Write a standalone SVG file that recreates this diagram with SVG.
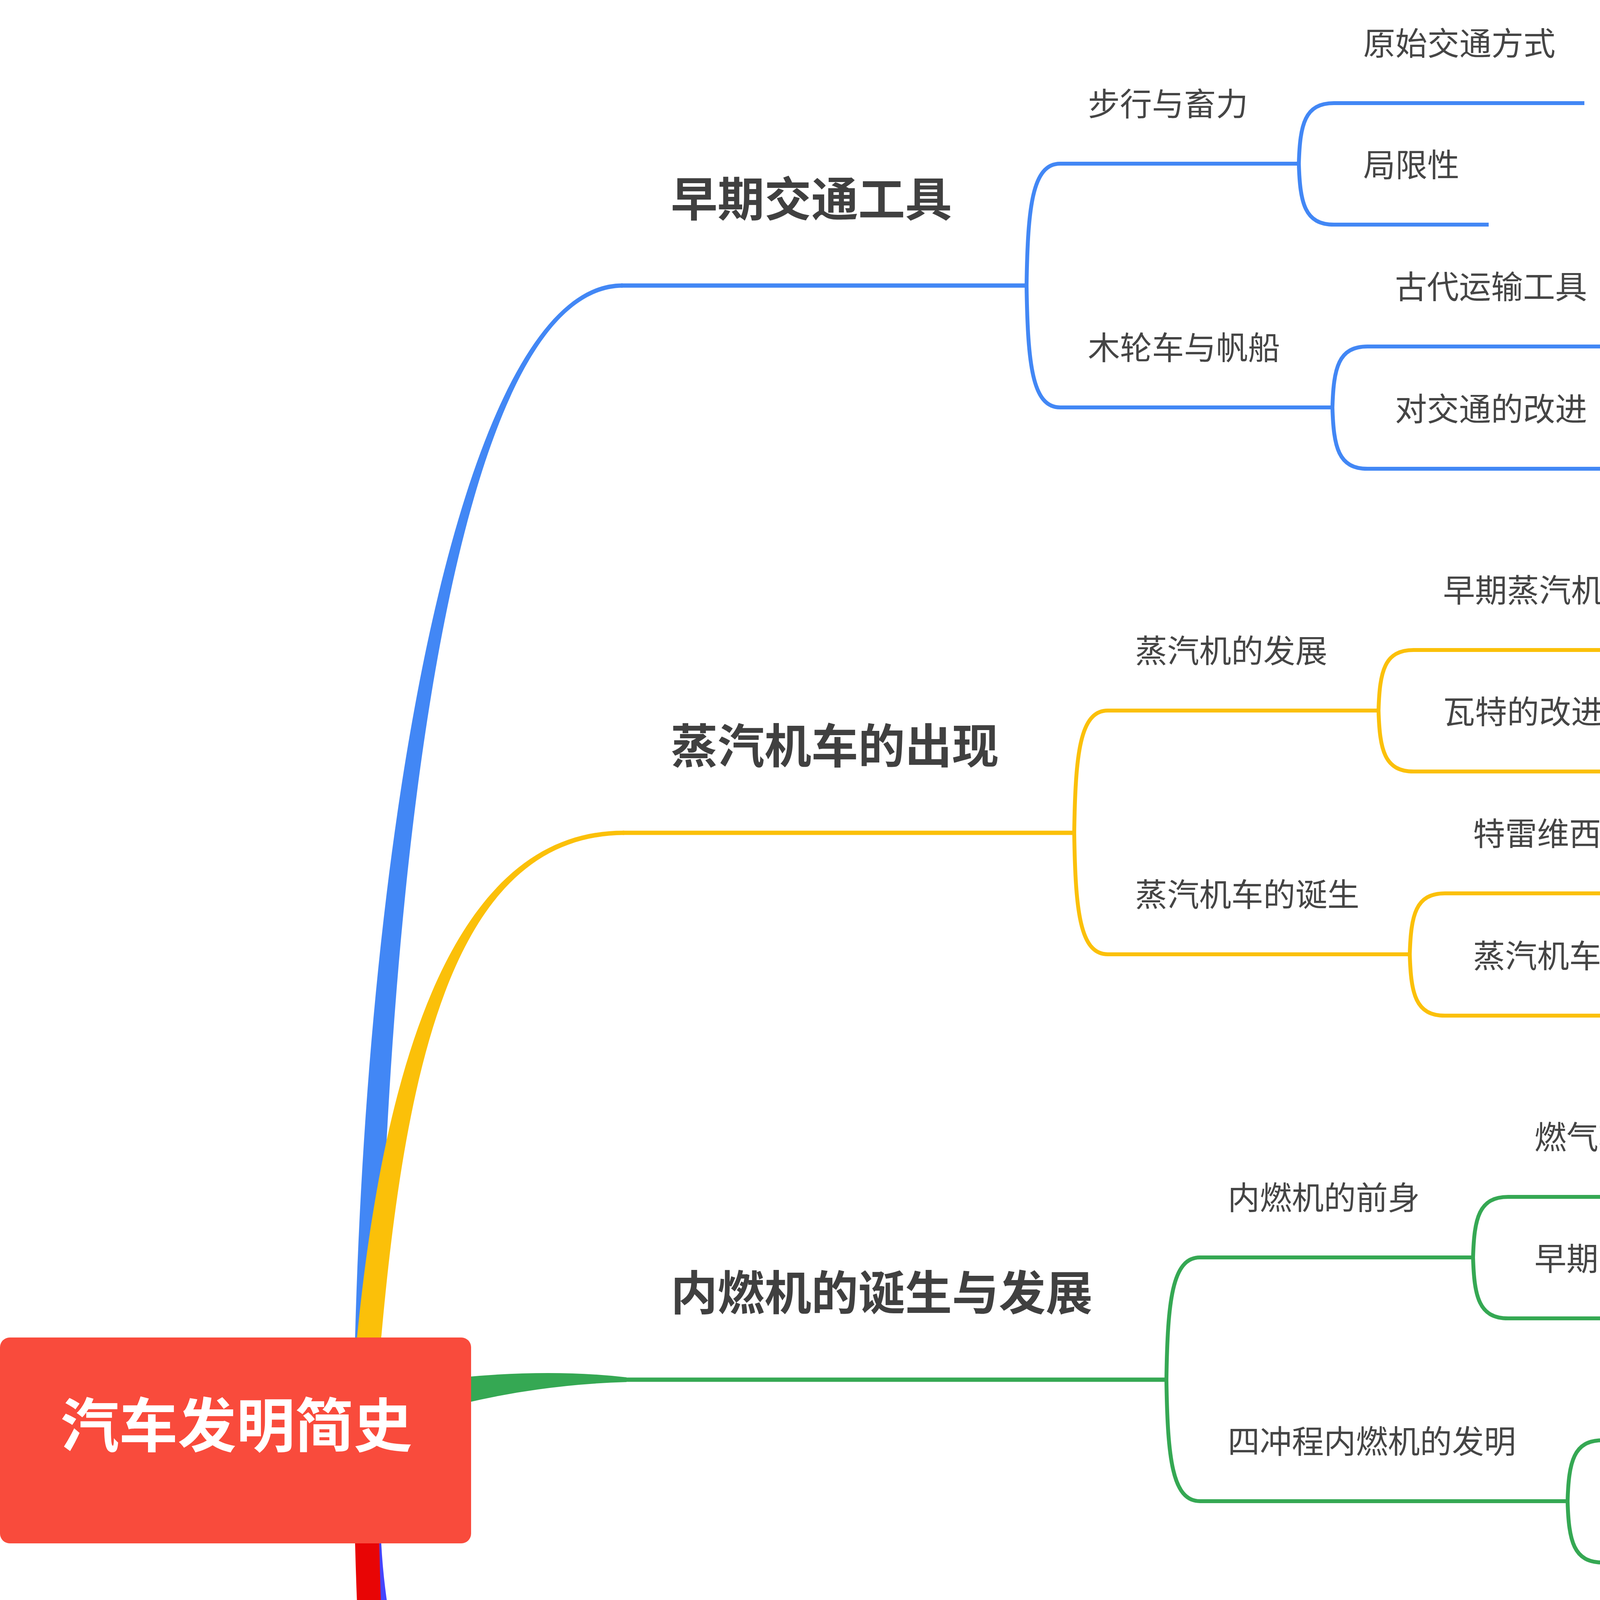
<svg xmlns="http://www.w3.org/2000/svg" width="4969" height="7431" viewBox="0 0 4969 7431">
<style>
.c{fill:none;stroke-width:10;stroke-linecap:butt}
.mc{fill:none;stroke-width:11}
.b{stroke:#4287F5}.bf{fill:#4287F5}
.y{stroke:#FBC009}.yf{fill:#FBC009}
.g{stroke:#35A853}.gf{fill:#35A853}
.p{stroke:#4545FF}.pf{fill:#4545FF}
.r{stroke:#E80505}.rf{fill:#E80505}
text{font-family:"Noto Sans CJK SC","Noto Sans",sans-serif}
.t{font-size:82px;fill:#454545}
.m{font-size:120px;font-weight:bold;fill:#404040}
.root{font-size:150px;font-weight:bold;fill:#FFFFFF}
</style>
<rect width="4969" height="7431" fill="#FFFFFF"/>
<g id="connectors">
  <!-- blue branch -->
  <path class="bf" d="M 909 3470 L 909 3424 C 947 2000 1200 723 1594 725.5 L 1594 736.5 C 1200 739 1003 2000 971 3424 L 971 3470 Z"/>
  <path class="mc b" d="M 1590 731 H 2628"/>
  <path class="c b" d="M 2628 731 C 2631 528 2643 419 2714 419 H 3325"/>
  <path class="c b" d="M 2628 731 C 2631 934 2643 1043 2714 1043 H 3411"/>
  <path class="c b" d="M 3325 419 C 3328 318 3340 264 3415 264 H 4056"/>
  <path class="c b" d="M 3325 419 C 3328 520 3340 575 3415 575 H 3811"/>
  <path class="c b" d="M 3411 1043 C 3414 942 3426 887 3501 887 H 4135"/>
  <path class="c b" d="M 3411 1043 C 3414 1145 3426 1200 3501 1200 H 4135"/>
  <!-- yellow branch -->
  <path class="yf" d="M 914 3470 L 914 3424 C 985 2700 1170 2124 1598 2126.5 L 1598 2137.5 C 1170 2140 1041 2700 976 3424 L 976 3470 Z"/>
  <path class="mc y" d="M 1594 2132 H 2750"/>
  <path class="c y" d="M 2750 2132 C 2753 1928 2765 1819 2836 1819 H 3529"/>
  <path class="c y" d="M 2750 2132 C 2753 2334 2765 2443 2836 2443 H 3609"/>
  <path class="c y" d="M 3529 1819 C 3532 1718 3544 1664 3619 1664 H 4174"/>
  <path class="c y" d="M 3529 1819 C 3532 1920 3544 1975 3619 1975 H 4174"/>
  <path class="c y" d="M 3609 2443 C 3612 2342 3624 2287 3699 2287 H 4499"/>
  <path class="c y" d="M 3609 2443 C 3612 2545 3624 2600 3699 2600 H 4662"/>
  <!-- green branch -->
  <path class="gf" d="M 1100 3535 Q 1380 3500 1604 3526 L 1604 3538 Q 1350 3545 1100 3615 Z"/>
  <path class="mc g" d="M 1600 3532 H 2986"/>
  <path class="c g" d="M 2986 3532 C 2989 3329 3001 3219 3072 3219 H 3771"/>
  <path class="c g" d="M 2986 3532 C 2989 3734 3001 3843 3072 3843 H 4013"/>
  <path class="c g" d="M 3771 3219 C 3774 3118 3786 3064 3861 3064 H 4330"/>
  <path class="c g" d="M 3771 3219 C 3774 3320 3786 3375 3861 3375 H 4575"/>
  <path class="c g" d="M 4013 3843 C 4016 3742 4028 3687 4103 3687 H 4896"/>
  <path class="c g" d="M 4013 3843 C 4016 3945 4028 4000 4103 4000 H 4735"/>
  <!-- purple branch -->
  <path class="pf" d="M 914 3900 L 914 3951 C 947 4450 1250 4940 1592 4937.5 L 1592 4926.5 C 1250 4924 1003 4450 976 3951 L 976 3900 Z"/>
  <path class="mc p" d="M 1588 4932 H 2867"/>
  <path class="c p" d="M 2867 4932 C 2870 4729 2882 4619 2953 4619 H 3733"/>
  <path class="c p" d="M 2867 4932 C 2870 5134 2882 5243 2953 5243 H 3816"/>
  <path class="c p" d="M 3733 4619 C 3736 4518 3748 4464 3823 4464 H 4798"/>
  <path class="c p" d="M 3733 4619 C 3736 4720 3748 4775 3823 4775 H 4962"/>
  <path class="c p" d="M 3816 5243 C 3819 5142 3831 5087 3906 5087 H 4662"/>
  <path class="c p" d="M 3816 5243 C 3819 5345 3831 5400 3906 5400 H 4783"/>
  <!-- red branch -->
  <path class="rf" d="M 909 3900 L 909 3951 C 947 5375 1200 6652 1594 6649.5 L 1594 6638.5 C 1200 6636 1003 5375 971 3951 L 971 3900 Z"/>
  <path class="mc r" d="M 1590 6643 H 2986"/>
  <path class="c r" d="M 2986 6643 C 2989 6237 3001 6018 3072 6018 H 3854"/>
  <path class="c r" d="M 2986 6643 H 3933"/>
  <path class="c r" d="M 2986 6643 C 2989 7049 3001 7267 3072 7267 H 3933"/>
  <path class="c r" d="M 3854 6018 C 3857 5919 3869 5865 3940 5865 H 4575"/>
  <path class="c r" d="M 3854 6018 C 3857 6121 3869 6176 3940 6176 H 4575"/>
  <path class="c r" d="M 3933 6643 C 3936 6542 3948 6487 4021 6487 H 4818"/>
  <path class="c r" d="M 3933 6643 C 3936 6744 3948 6799 4021 6799 H 4655"/>
  <path class="c r" d="M 3933 7267 C 3936 7166 3948 7112 4021 7112 H 4655"/>
  <path class="c r" d="M 3933 7267 C 3936 7368 3948 7422 4021 7422 H 4899"/>
</g>
<g id="node-root">
  <rect x="0" y="3424" width="1206" height="527" rx="25" ry="25" fill="#F94B3C"/>
  <text class="root" x="605" y="3704" text-anchor="middle">汽车发明简史</text>
</g>
<g id="node-m1"><text class="m" x="1717" y="554">早期交通工具</text></g>
<g id="node-m2"><text class="m" x="1717" y="1954">蒸汽机车的出现</text></g>
<g id="node-m3"><text class="m" x="1717" y="3354">内燃机的诞生与发展</text></g>
<g id="node-m4"><text class="m" x="1717" y="4754">汽车的诞生与普及</text></g>
<g id="node-m5"><text class="m" x="1717" y="6466">现代汽车技术的进步</text></g>
<g id="node-s11"><text class="t" x="2785" y="296">步行与畜力</text></g>
<g id="node-s12"><text class="t" x="2785" y="920">木轮车与帆船</text></g>
<g id="node-s21"><text class="t" x="2906" y="1696">蒸汽机的发展</text></g>
<g id="node-s22"><text class="t" x="2906" y="2320">蒸汽机车的诞生</text></g>
<g id="node-s31"><text class="t" x="3143" y="3096">内燃机的前身</text></g>
<g id="node-s32"><text class="t" x="3143" y="3720">四冲程内燃机的发明</text></g>
<g id="node-s41"><text class="t" x="3024" y="4496">早期汽车的尝试</text></g>
<g id="node-s42"><text class="t" x="3024" y="5120">大规模生产与普及</text></g>
<g id="node-s51"><text class="t" x="3143" y="5895">引擎技术的提升</text></g>
<g id="node-s52"><text class="t" x="3143" y="6520">车身与底盘的创新</text></g>
<g id="node-s53"><text class="t" x="3143" y="7144">智能化与自动驾驶</text></g>
<g id="node-l111"><text class="t" x="3490" y="141">原始交通方式</text></g>
<g id="node-l112"><text class="t" x="3490" y="452">局限性</text></g>
<g id="node-l121"><text class="t" x="3571" y="764">古代运输工具</text></g>
<g id="node-l122"><text class="t" x="3571" y="1077">对交通的改进</text></g>
<g id="node-l211"><text class="t" x="3694" y="1541">早期蒸汽机</text></g>
<g id="node-l212"><text class="t" x="3694" y="1852">瓦特的改进</text></g>
<g id="node-l221"><text class="t" x="3771" y="2164">特雷维西克的贡献</text></g>
<g id="node-l222"><text class="t" x="3771" y="2477">蒸汽机车的应用与影响</text></g>
<g id="node-l311"><text class="t" x="3928" y="2941">燃气轮机</text></g>
<g id="node-l312"><text class="t" x="3928" y="3252">早期内燃机尝试</text></g>
<g id="node-l321"><text class="t" x="4172" y="3564">奥托与四冲程循环</text></g>
<g id="node-l322"><text class="t" x="4172" y="3877">柴油机的出现</text></g>
<g id="node-l411"><text class="t" x="3892" y="4341">卡尔·本茨的马车式汽车</text></g>
<g id="node-l412"><text class="t" x="3892" y="4652">戈特利布·戴姆勒的四轮汽车</text></g>
<g id="node-l421"><text class="t" x="3974" y="4964">福特T型车的革命</text></g>
<g id="node-l422"><text class="t" x="3974" y="5277">汽车工业的飞速发展</text></g>
<g id="node-l511"><text class="t" x="4009" y="5742">燃油直喷技术</text></g>
<g id="node-l512"><text class="t" x="4009" y="6053">涡轮增压技术</text></g>
<g id="node-l521"><text class="t" x="4092" y="6364">轻量化材料的应用</text></g>
<g id="node-l522"><text class="t" x="4092" y="6676">电子悬挂系统</text></g>
<g id="node-l531"><text class="t" x="4092" y="6989">车载智能系统</text></g>
<g id="node-l532"><text class="t" x="4092" y="7299">自动驾驶技术的发展</text></g>
</svg>
